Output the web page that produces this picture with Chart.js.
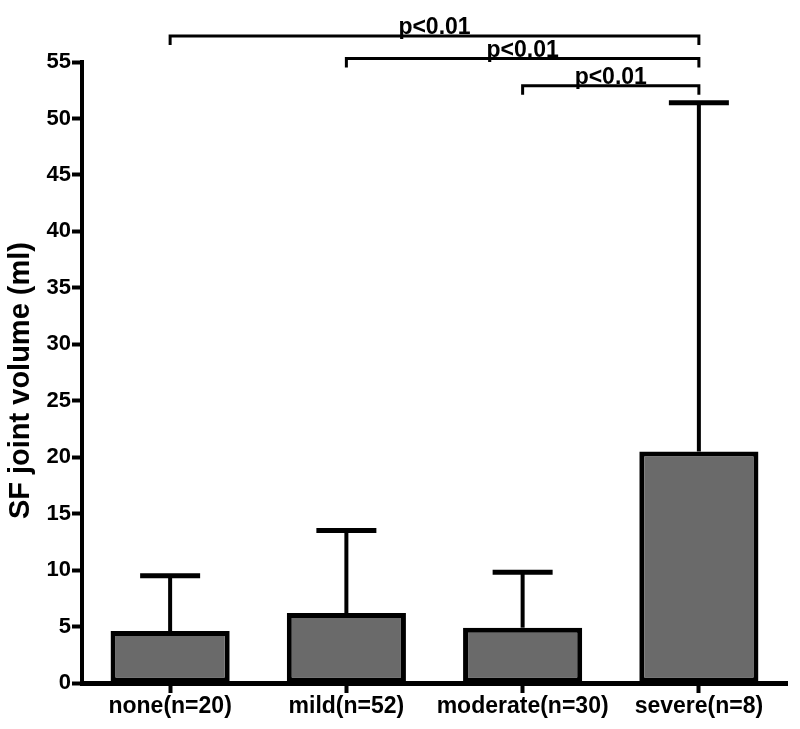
<!DOCTYPE html>
<html lang="en">
<head>
<meta charset="utf-8">
<title>SF joint volume</title>
<script src="https://cdn.jsdelivr.net/npm/chart.js@4.4.1/dist/chart.umd.min.js"></script>
<style>
  body { margin: 0; background: #fff; }
  #wrap { width: 800px; height: 729px; position: relative; }
</style>
</head>
<body>
<div id="wrap"><canvas id="bar-chart"></canvas></div>
<script>
// data
var categories = ["none(n=20)", "mild(n=52)", "moderate(n=30)", "severe(n=8)"];
var means = [4.6, 6.2, 4.9, 20.5];
var sds = [4.9, 7.3, 4.9, 30.9];
var yTicks = [0, 5, 10, 15, 20, 25, 30, 35, 40, 45, 50, 55];

// significance brackets: from category, to category, height (ml), label
var bracketFrom = [0, 1, 2];
var bracketTo = [3, 3, 3];
var bracketLevel = [57.3, 55.3, 52.9];
var bracketLabel = ["p<0.01", "p<0.01", "p<0.01"];

var FONT = "'Liberation Sans', Arial, sans-serif";

// error bars (upper only, like the original)
var errorBars = {
  id: 'errorBars',
  afterDatasetsDraw: function(chart) {
    var ctx = chart.ctx;
    var y = chart.scales.y;
    var meta = chart.getDatasetMeta(0);
    ctx.save();
    ctx.strokeStyle = '#000';
    meta.data.forEach(function(bar, i) {
      var top = y.getPixelForValue(means[i] + sds[i]);
      ctx.lineWidth = 4;
      ctx.beginPath();
      ctx.moveTo(bar.x, bar.y);
      ctx.lineTo(bar.x, top);
      ctx.stroke();
      ctx.lineWidth = 5;
      ctx.beginPath();
      ctx.moveTo(bar.x - 30, top);
      ctx.lineTo(bar.x + 30, top);
      ctx.stroke();
    });
    ctx.restore();
  }
};

// p-value brackets above the plot
var brackets = {
  id: 'brackets',
  afterDraw: function(chart) {
    var ctx = chart.ctx;
    var x = chart.scales.x, y = chart.scales.y;
    ctx.save();
    ctx.strokeStyle = '#000';
    ctx.fillStyle = '#000';
    ctx.lineWidth = 3;
    ctx.font = "bold 23px " + FONT;
    ctx.textAlign = 'center';
    ctx.textBaseline = 'alphabetic';
    for (var i = 0; i < bracketFrom.length; i++) {
      var x1 = x.getPixelForValue(bracketFrom[i]);
      var x2 = x.getPixelForValue(bracketTo[i]);
      var yy = y.getPixelForValue(bracketLevel[i]);
      ctx.beginPath();
      ctx.moveTo(x1, yy + 9);
      ctx.lineTo(x1, yy);
      ctx.lineTo(x2, yy);
      ctx.lineTo(x2, yy + 9);
      ctx.stroke();
      ctx.fillText(bracketLabel[i], (x1 + x2) / 2, yy - 2);
    }
    ctx.restore();
  }
};

new Chart(document.getElementById("bar-chart"), {
  type: 'bar',
  data: {
    labels: categories,
    datasets: [{
      data: means,
      backgroundColor: '#6a6a6a',
      borderColor: '#000',
      borderWidth: 5,
      borderSkipped: false,
      barPercentage: 0.676,
      categoryPercentage: 1
    }]
  },
  options: {
    responsive: true,
    maintainAspectRatio: false,
    animation: false,
    layout: { padding: { top: 62, right: 13, left: 0, bottom: 0 } },
    plugins: {
      legend: { display: false },
      tooltip: { enabled: false }
    },
    scales: {
      x: {
        grid: {
          offset: false,
          drawOnChartArea: false,
          drawTicks: true,
          tickLength: 10,
          tickWidth: 4,
          color: '#000'
        },
        border: { display: true, color: '#000', width: 5 },
        ticks: {
          color: '#000',
          padding: 0,
          maxRotation: 0,
          font: { family: FONT, size: 23, weight: 'bold' }
        },
        afterFit: function(s) { s.height = 46; }
      },
      y: {
        min: 0,
        max: 55,
        afterBuildTicks: function(s) {
          s.ticks = yTicks.map(function(v) { return { value: v }; });
        },
        grid: {
          drawOnChartArea: false,
          drawTicks: true,
          tickLength: 10,
          tickWidth: 4,
          color: '#000'
        },
        border: { display: true, color: '#000', width: 4 },
        ticks: {
          color: '#000',
          padding: 1,
          font: { family: FONT, size: 22, weight: 'bold' }
        },
        title: {
          display: true,
          text: 'SF joint volume (ml)  ',
          color: '#000',
          padding: { top: 4, bottom: 0 },
          font: { family: FONT, size: 29, weight: 'bold' }
        },
        afterFit: function(s) { s.width = 82; }
      }
    }
  },
  plugins: [errorBars, brackets]
});
</script>
</body>
</html>
